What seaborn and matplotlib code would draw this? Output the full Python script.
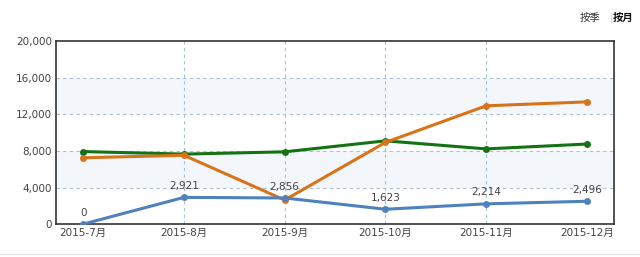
import matplotlib
matplotlib.use("Agg")
import matplotlib.pyplot as plt
import seaborn as sns
import pandas as pd
from matplotlib.ticker import FuncFormatter

months = ["2015-7月", "2015-8月", "2015-9月", "2015-10月", "2015-11月", "2015-12月"]
blue_vals = [0, 2921, 2856, 1623, 2214, 2496]
green_vals = [7930, 7650, 7900, 9100, 8220, 8750]
orange_vals = [7250, 7520, 2630, 8930, 12930, 13360]
y_ticks = [0, 4000, 8000, 12000, 16000, 20000]

sns.set_theme(style="white")
plt.rcParams['font.family'] = ['DejaVu Sans', 'Noto Sans CJK SC']

df = pd.DataFrame({
    "idx": list(range(len(months))) * 3,
    "value": green_vals + orange_vals + blue_vals,
    "series": ["green"] * 6 + ["orange"] * 6 + ["blue"] * 6,
})

fig = plt.figure(figsize=(6.4, 2.57), dpi=100)
ax = fig.add_axes([0.0875, 0.128, 0.872, 0.712])

# alternating bands
for i in range(len(y_ticks) - 1):
    if i % 2 == 1:
        ax.axhspan(y_ticks[i], y_ticks[i + 1], color="#f3f7fc", zorder=0, lw=0)

for t in y_ticks[1:-1]:
    ax.axhline(t, color="#a9bfd6", lw=0.8, ls=(0, (3, 3)), zorder=1)
for x in range(1, len(months) - 1):
    ax.axvline(x, color="#a9bfd6", lw=0.8, ls=(0, (3, 3)), zorder=1)

palette = {"green": "#137313", "orange": "#d9731a", "blue": "#4f81bd"}
sns.lineplot(data=df, x="idx", y="value", hue="series", palette=palette,
             marker="o", markersize=5, markeredgewidth=0, lw=2.2,
             legend=False, ax=ax, zorder=3)

for i, v in enumerate(blue_vals):
    ax.text(i, v + 700, f"{v:,}", ha="center", va="bottom", fontsize=7.5,
            color="#444444", zorder=4)

ax.set_xlim(-0.27, 5.27)
ax.set_ylim(0, 20000)
ax.set_yticks(y_ticks)
ax.yaxis.set_major_formatter(FuncFormatter(lambda v, p: f"{int(v):,}"))
ax.set_xticks(range(len(months)))
ax.set_xticklabels(months, family=['DejaVu Sans', 'Noto Sans CJK SC'])
ax.tick_params(axis="both", labelsize=7.5, colors="#444444", length=0, pad=3)
ax.set_xlabel("")
ax.set_ylabel("")
for s in ax.spines.values():
    s.set_color("#333333")
    s.set_linewidth(1.2)
    s.set_visible(True)

fig.text(0.906, 0.93, "按季", fontsize=7.5, family=['Noto Sans CJK SC'],
         color="#333333", ha="left", va="center")
fig.text(0.952, 0.93, "|", fontsize=7.5, color="#cccccc", ha="left", va="center")
fig.text(0.958, 0.93, "按月", fontsize=7.5, family=['Noto Sans CJK SC'],
         color="#111111", fontweight="bold", ha="left", va="center")

fig.add_artist(plt.Line2D([0.0, 1.0], [0.01, 0.01], color="#e4e4e4", lw=0.8))

ax.set_xlabel("")
fig.savefig("out.png", dpi=100, facecolor="white")
